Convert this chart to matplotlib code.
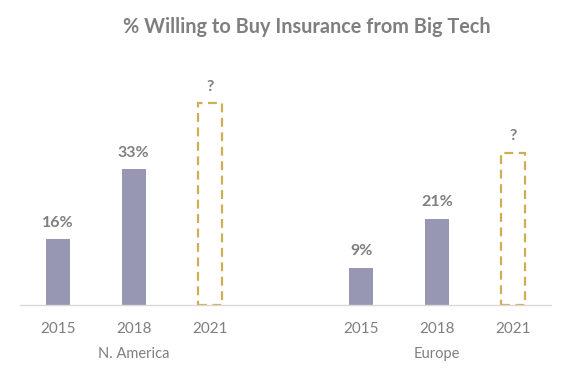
import matplotlib
matplotlib.use("Agg")
import matplotlib.pyplot as plt

plt.rcParams['font.family'] = ['Lato', 'DejaVu Sans']

# data
regions = ['N. America', 'Europe']
years = ['2015', '2018', '2021']
na_values = [16, 33]
eu_values = [9, 21]
# 2021 is unknown: placeholder heights drawn as dashed outlines
na_placeholder = 49
eu_placeholder = 37

bar_color = '#9797B4'
dash_color = '#CDAE57'
text_color = '#7F7F7F'

fig = plt.figure(figsize=(5.63, 3.77), dpi=100)
ax = fig.add_axes([20 / 563, 72 / 377, 531 / 563, 247 / 377])

width = 0.32
groups = [(0, na_values, na_placeholder), (4, eu_values, eu_placeholder)]
tick_pos = []
tick_lab = []
for start, vals, ph in groups:
    for i, v in enumerate(vals):
        x = start + i
        ax.bar(x, v, width=width, color=bar_color)
        ax.text(x, v + 2.3, f'{v}%', ha='center', va='bottom', fontsize=11.5,
                fontweight='bold', color=text_color)
    x = start + 2
    ax.bar(x, ph, width=width, facecolor='none', edgecolor=dash_color,
           linewidth=1.6, linestyle=(0, (4, 2.5)))
    ax.text(x, ph + 2.3, '?', ha='center', va='bottom', fontsize=11.5,
            fontweight='bold', color=text_color)
    tick_pos += [start, start + 1, start + 2]
    tick_lab += years

ax.set_xlim(-0.5, 6.5)
ax.set_ylim(0, 60)
ax.set_xticks(tick_pos)
ax.set_xticklabels(tick_lab, fontsize=11, color=text_color)
ax.tick_params(axis='x', length=0, pad=12)
ax.set_yticks([])
for s in ['top', 'right', 'left']:
    ax.spines[s].set_visible(False)
ax.spines['bottom'].set_color('#D9D9D9')
ax.spines['bottom'].set_linewidth(1)
ax.spines['bottom'].set_zorder(3)

for name, x in zip(regions, [1, 5]):
    ax.text(x, -0.2, name, transform=ax.get_xaxis_transform(), ha='center',
            va='center', fontsize=10.5, color=text_color)

fig.text(307 / 563, 0.928, '% Willing to Buy Insurance from Big Tech', ha='center',
         va='center', fontsize=14.3, fontweight='bold', color=text_color)

fig.savefig('out.png', dpi=100)
